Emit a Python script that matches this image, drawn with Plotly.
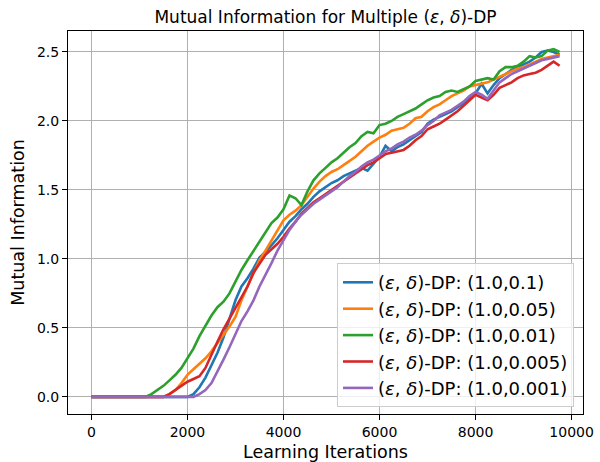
import plotly.graph_objects as go

iterations = [125 * i for i in range(79)]

d_01 = [0]*17 + [0.02, 0.07, 0.14, 0.23, 0.32, 0.43, 0.57, 0.70, 0.80, 0.86, 0.93, 1.01, 1.05, 1.10, 1.15,
        1.21, 1.27, 1.31, 1.36, 1.40, 1.45, 1.49, 1.52, 1.55, 1.57, 1.60, 1.62, 1.64, 1.66, 1.64, 1.69,
        1.74, 1.82, 1.78, 1.81, 1.83, 1.86, 1.89, 1.92, 1.98, 2.01, 2.03, 2.05, 2.07, 2.10, 2.13, 2.16,
        2.20, 2.27, 2.20, 2.26, 2.31, 2.34, 2.37, 2.39, 2.41, 2.43, 2.46, 2.50, 2.51, 2.50, 2.48]

d_005 = [0]*13 + [0.02, 0.05, 0.10, 0.16, 0.20, 0.24, 0.28, 0.33, 0.39, 0.45, 0.51, 0.58, 0.70, 0.80, 0.90,
         0.99, 1.06, 1.13, 1.20, 1.28, 1.32, 1.35, 1.39, 1.45, 1.51, 1.56, 1.60, 1.63, 1.65, 1.68, 1.71,
         1.74, 1.78, 1.82, 1.85, 1.88, 1.90, 1.93, 1.94, 1.95, 1.98, 2.02, 2.03, 2.07, 2.10, 2.12, 2.15,
         2.18, 2.20, 2.22, 2.25, 2.26, 2.27, 2.28, 2.30, 2.32, 2.34, 2.36, 2.38, 2.39, 2.41, 2.43, 2.45,
         2.46, 2.47, 2.48]

d_001 = [0]*10 + [0.02, 0.05, 0.08, 0.12, 0.16, 0.21, 0.28, 0.35, 0.44, 0.52, 0.59, 0.65, 0.69, 0.75,
         0.84, 0.92, 0.99, 1.06, 1.13, 1.20, 1.26, 1.30, 1.36, 1.46, 1.44, 1.39, 1.49, 1.57, 1.62, 1.66,
         1.70, 1.73, 1.77, 1.81, 1.84, 1.89, 1.92, 1.91, 1.97, 1.98, 2.00, 2.03, 2.05, 2.07, 2.09, 2.12,
         2.15, 2.17, 2.18, 2.21, 2.22, 2.21, 2.23, 2.25, 2.29, 2.30, 2.31, 2.30, 2.36, 2.39, 2.39, 2.40,
         2.43, 2.47, 2.46, 2.47, 2.51, 2.52, 2.50]

d_0005 = [0]*13 + [0.02, 0.05, 0.08, 0.11, 0.13, 0.15, 0.21, 0.31, 0.40, 0.49, 0.57, 0.64, 0.72, 0.80,
          0.90, 0.97, 1.03, 1.07, 1.11, 1.16, 1.22, 1.27, 1.33, 1.37, 1.41, 1.44, 1.47, 1.50, 1.53, 1.56,
          1.59, 1.62, 1.65, 1.68, 1.70, 1.73, 1.76, 1.77, 1.78, 1.79, 1.82, 1.86, 1.89, 1.94, 1.96, 1.98,
          2.01, 2.04, 2.07, 2.11, 2.15, 2.19, 2.17, 2.15, 2.19, 2.24, 2.26, 2.28, 2.31, 2.33, 2.34, 2.35,
          2.37, 2.40, 2.43, 2.40]

d_0001 = [0]*18 + [0.02, 0.05, 0.10, 0.18, 0.27, 0.36, 0.46, 0.55, 0.62, 0.70, 0.80, 0.88, 0.97, 1.06,
          1.14, 1.21, 1.27, 1.32, 1.36, 1.40, 1.43, 1.46, 1.49, 1.52, 1.56, 1.60, 1.63, 1.67, 1.70, 1.72,
          1.75, 1.78, 1.80, 1.83, 1.85, 1.88, 1.90, 1.93, 1.97, 2.00, 2.04, 2.06, 2.08, 2.11, 2.14, 2.18,
          2.21, 2.19, 2.16, 2.22, 2.28, 2.31, 2.34, 2.36, 2.38, 2.40, 2.42, 2.44, 2.45, 2.46, 2.47]

series_names = ["(<i>ε</i>, <i>δ</i>)-DP: (1.0,0.1)", "(<i>ε</i>, <i>δ</i>)-DP: (1.0,0.05)",
                "(<i>ε</i>, <i>δ</i>)-DP: (1.0,0.01)", "(<i>ε</i>, <i>δ</i>)-DP: (1.0,0.005)",
                "(<i>ε</i>, <i>δ</i>)-DP: (1.0,0.001)"]
series_values = [d_01, d_005, d_001, d_0005, d_0001]
colors = ["#1f77b4", "#ff7f0e", "#2ca02c", "#d62728", "#9467bd"]

fig = go.Figure()
for name, vals, c in zip(series_names, series_values, colors):
    fig.add_trace(go.Scatter(x=iterations[:len(vals)], y=vals, mode="lines", name=name,
                             line=dict(color=c, width=2.6)))

font = "DejaVu Sans"
axis_common = dict(showline=True, mirror=True, linecolor="black", linewidth=1,
                   ticks="outside", ticklen=5, tickcolor="black", tickwidth=1,
                   showgrid=True, gridcolor="#b0b0b0", gridwidth=1, zeroline=False,
                   automargin=False,
                   tickfont=dict(family=font, size=14, color="black"))

fig.update_layout(
    width=600, height=462,
    margin=dict(l=68, r=17, t=31, b=48),
    paper_bgcolor="white", plot_bgcolor="white",
    font=dict(family=font, color="black"),
    title=dict(text="Mutual Information for Multiple (<i>ε</i>, <i>δ</i>)-DP",
               x=(68 + 583) / 2 / 600, xanchor="center", y=1 - 17 / 462, yanchor="middle",
               font=dict(family=font, size=17, color="black")),
    xaxis=dict(range=[-487.5, 10237.5], tickvals=[0, 2000, 4000, 6000, 8000, 10000],
               ticktext=["0", "2000", "4000", "6000", "8000", "10000"],
               title=dict(text="Learning Iterations", font=dict(family=font, size=17.5), standoff=6),
               **axis_common),
    yaxis=dict(range=[-0.124, 2.652], tickvals=[0, 0.5, 1.0, 1.5, 2.0, 2.5],
               ticktext=["0.0", "0.5", "1.0", "1.5", "2.0", "2.5"],
               title=dict(text="Mutual Information", font=dict(family=font, size=17.5), standoff=7),
               **axis_common),
    legend=dict(x=0.9825, xanchor="right", y=0.018, yanchor="bottom",
                bgcolor="rgba(255,255,255,0.8)", bordercolor="#cccccc", borderwidth=1,
                font=dict(family=font, size=18, color="black"), tracegroupgap=0),
    showlegend=True,
)

fig.write_html("out.html", config={"displayModeBar": False},
               post_script="document.body.style.margin='0';document.body.style.overflow='hidden';")
